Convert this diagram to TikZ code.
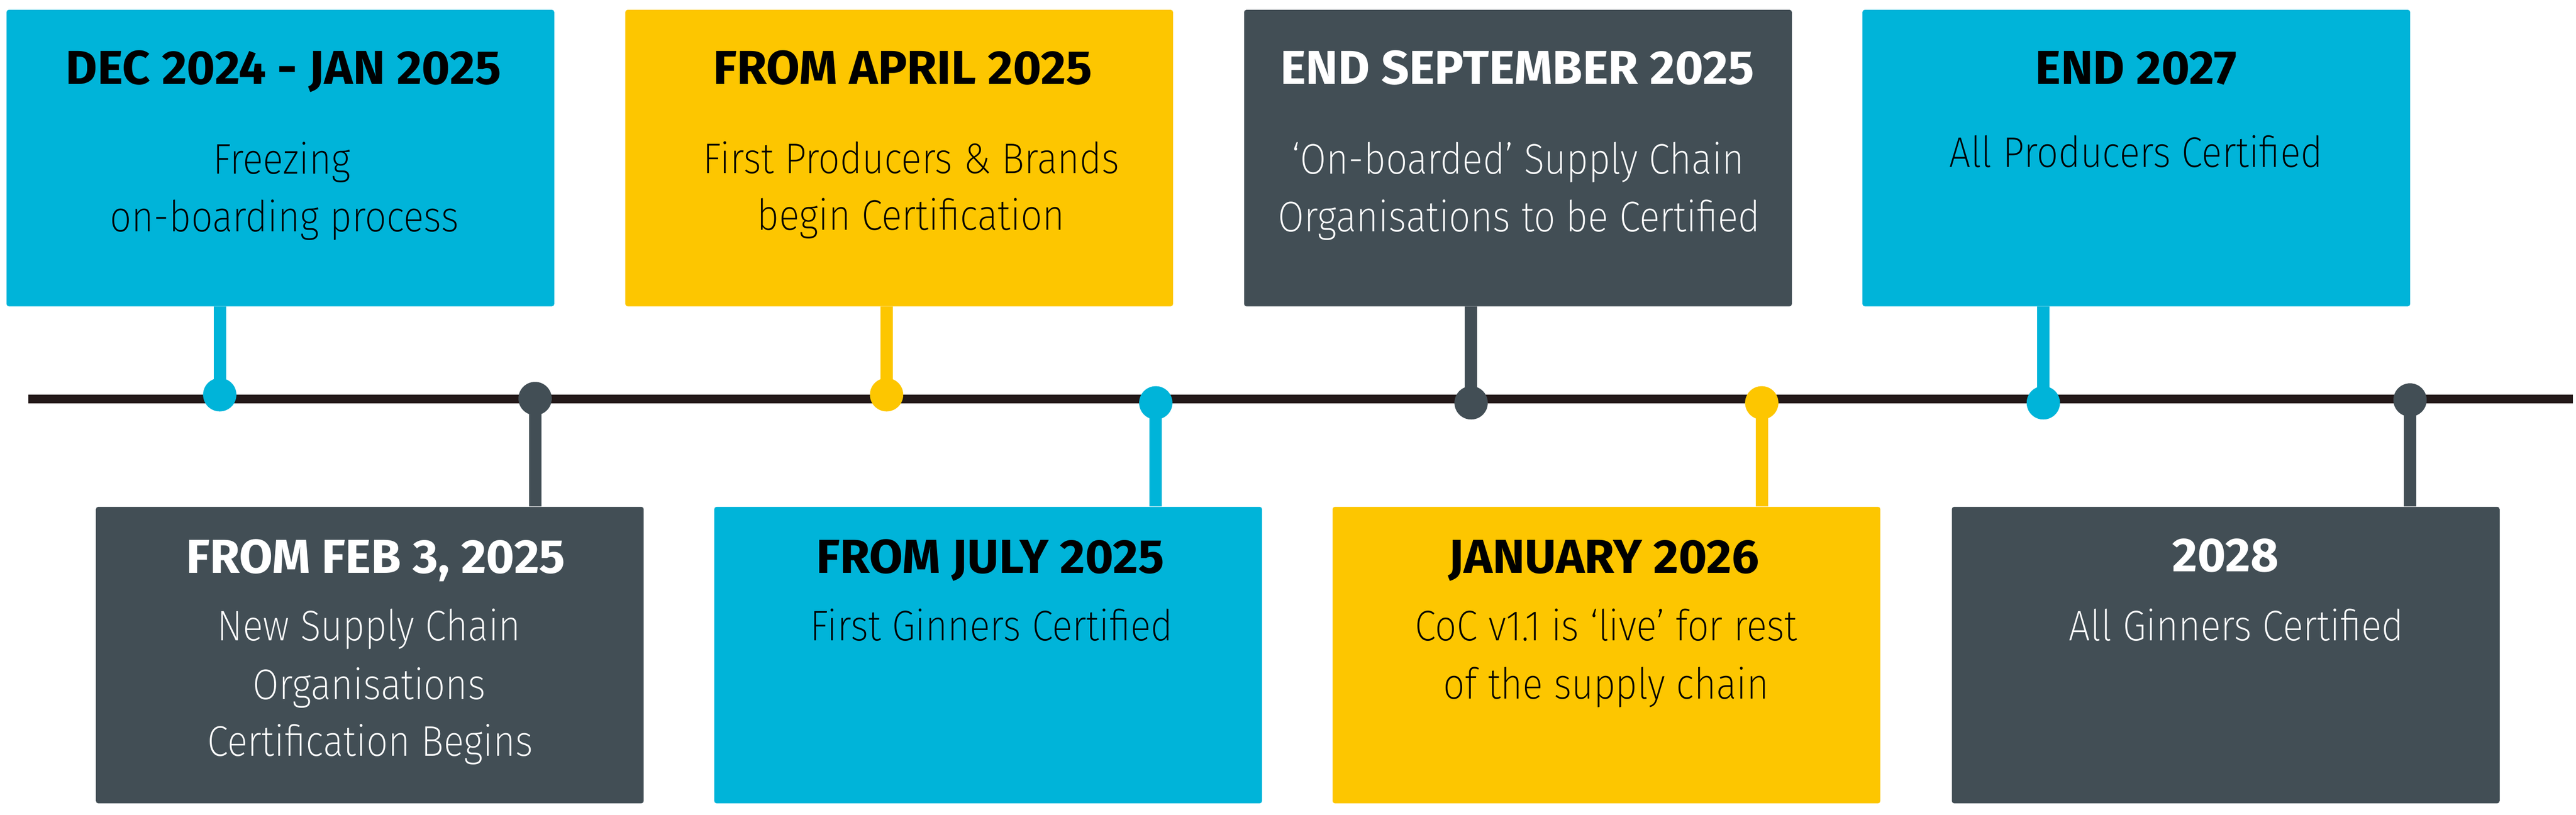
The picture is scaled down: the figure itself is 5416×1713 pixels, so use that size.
\documentclass[tikz,border=0pt]{standalone}
\usepackage{fontspec}
\setmainfont{Fira Sans}
\newfontfamily\titlefont{Fira Sans}[FakeStretch=1.02]
\newfontfamily\bodyfont{Fira Sans ExtraLight}[FakeStretch=0.89]
\definecolor{cblue}{RGB}{0,180,217}
\definecolor{cyellow}{RGB}{253,198,0}
\definecolor{cdark}{RGB}{66,78,85}
\definecolor{cline}{RGB}{35,25,25}
\begin{document}
\begin{tikzpicture}[x=0.01cm,y=-0.01cm,
  box/.style={rectangle, rounded corners=1.4pt, minimum width=11.51cm, minimum height=6.23cm, anchor=north west, inner sep=0pt, draw=none},
  title/.style={anchor=base, inner sep=0pt, font=\titlefont\bfseries\fontsize{28.5}{30}\selectfont},
  body/.style={anchor=base, inner sep=0pt, font=\bodyfont\fontsize{25.6}{28}\selectfont},
  dot/.style={circle, minimum size=0.7cm, inner sep=0pt, draw=none},
  stem/.style={line width=0.26cm},
  timeline/.style={line width=0.18cm, draw=cline}]
\useasboundingbox (0,0) rectangle (5416,1713);
\fill[white] (0,0) rectangle (5416,1713);

% boxes
\node[box, fill=cblue]   (b1) at (13,20) {};
\node[box, fill=cdark]   (b2) at (201,1065) {};
\node[box, fill=cyellow] (b3) at (1314,20) {};
\node[box, fill=cblue]   (b5) at (1501,1065) {};
\node[box, fill=cdark]   (b4) at (2615,20) {};
\node[box, fill=cyellow] (b6) at (2801,1065) {};
\node[box, fill=cblue]   (b7) at (3915,20) {};
\node[box, fill=cdark]   (b8) at (4103,1065) {};

% texts
\node[title, text=black] (t1) at (596,177) {DEC 2024 - JAN 2025};
\node[body, text=black] (t1a) at (592,366) {Freezing};
\node[body, text=black] (t1b) at (598,487) {on-boarding process};

\node[title, text=white] (t2) at (790,1205) {FROM FEB 3, 2025};
\node[body, text=white] (t2a) at (776,1347) {New Supply Chain};
\node[body, text=white] (t2b) at (776,1470) {Organisations};
\node[body, text=white] (t2c) at (778,1590) {Certification Begins};

\node[title, text=black] (t3) at (1898,177) {FROM APRIL 2025};
\node[body, text=black] (t3a) at (1916,365) {First Producers \& Brands};
\node[body, text=black] (t3b) at (1915,484) {begin Certification};

\node[title, text=white] (t4) at (3190,177) {END SEPTEMBER 2025};
\node[body, text=white] (t4a) at (3192,366) {‘On-boarded’ Supply Chain};
\node[body, text=white] (t4b) at (3194,487) {Organisations to be Certified};

\node[title, text=black] (t5) at (2082,1205) {FROM JULY 2025};
\node[body, text=black] (t5a) at (2085,1347) {First Ginners Certified};

\node[title, text=black] (t6) at (3372,1205) {JANUARY 2026};
\node[body, text=black] (t6a) at (3377,1347) {CoC v1.1 is ‘live’ for rest};
\node[body, text=black] (t6b) at (3377,1469) {of the supply chain};

\node[title, text=black] (t7) at (4491,177) {END 2027};
\node[body, text=black] (t7a) at (4491,352) {All Producers Certified};

\node[title, text=white] (t8) at (4679,1202) {2028};
\node[body, text=white] (t8a) at (4702,1347) {All Ginners Certified};

% timeline
\coordinate (tlA) at (60,839);
\coordinate (tlB) at (5409,839);
\draw[timeline] (tlA) -- (tlB);

% dot positions
\coordinate (p1) at (462,830);
\coordinate (p2) at (1125,838);
\coordinate (p3) at (1864,830);
\coordinate (p4) at (2430,847);
\coordinate (p5) at (3093,847);
\coordinate (p6) at (3704,847);
\coordinate (p7) at (4296,847);
\coordinate (p8) at (5067,841);

% stems
\draw[stem, draw=cblue]   (p1 |- b1.south) -- (p1);
\draw[stem, draw=cdark]   (p2) -- (p2 |- b2.north);
\draw[stem, draw=cyellow] (p3 |- b3.south) -- (p3);
\draw[stem, draw=cblue]   (p4) -- (p4 |- b5.north);
\draw[stem, draw=cdark]   (p5 |- b4.south) -- (p5);
\draw[stem, draw=cyellow] (p6) -- (p6 |- b6.north);
\draw[stem, draw=cblue]   (p7 |- b7.south) -- (p7);
\draw[stem, draw=cdark]   (p8) -- (p8 |- b8.north);

% dots
\node[dot, fill=cblue]   (d1) at (p1) {};
\node[dot, fill=cdark]   (d2) at (p2) {};
\node[dot, fill=cyellow] (d3) at (p3) {};
\node[dot, fill=cblue]   (d4) at (p4) {};
\node[dot, fill=cdark]   (d5) at (p5) {};
\node[dot, fill=cyellow] (d6) at (p6) {};
\node[dot, fill=cblue]   (d7) at (p7) {};
\node[dot, fill=cdark]   (d8) at (p8) {};
\end{tikzpicture}
\end{document}
